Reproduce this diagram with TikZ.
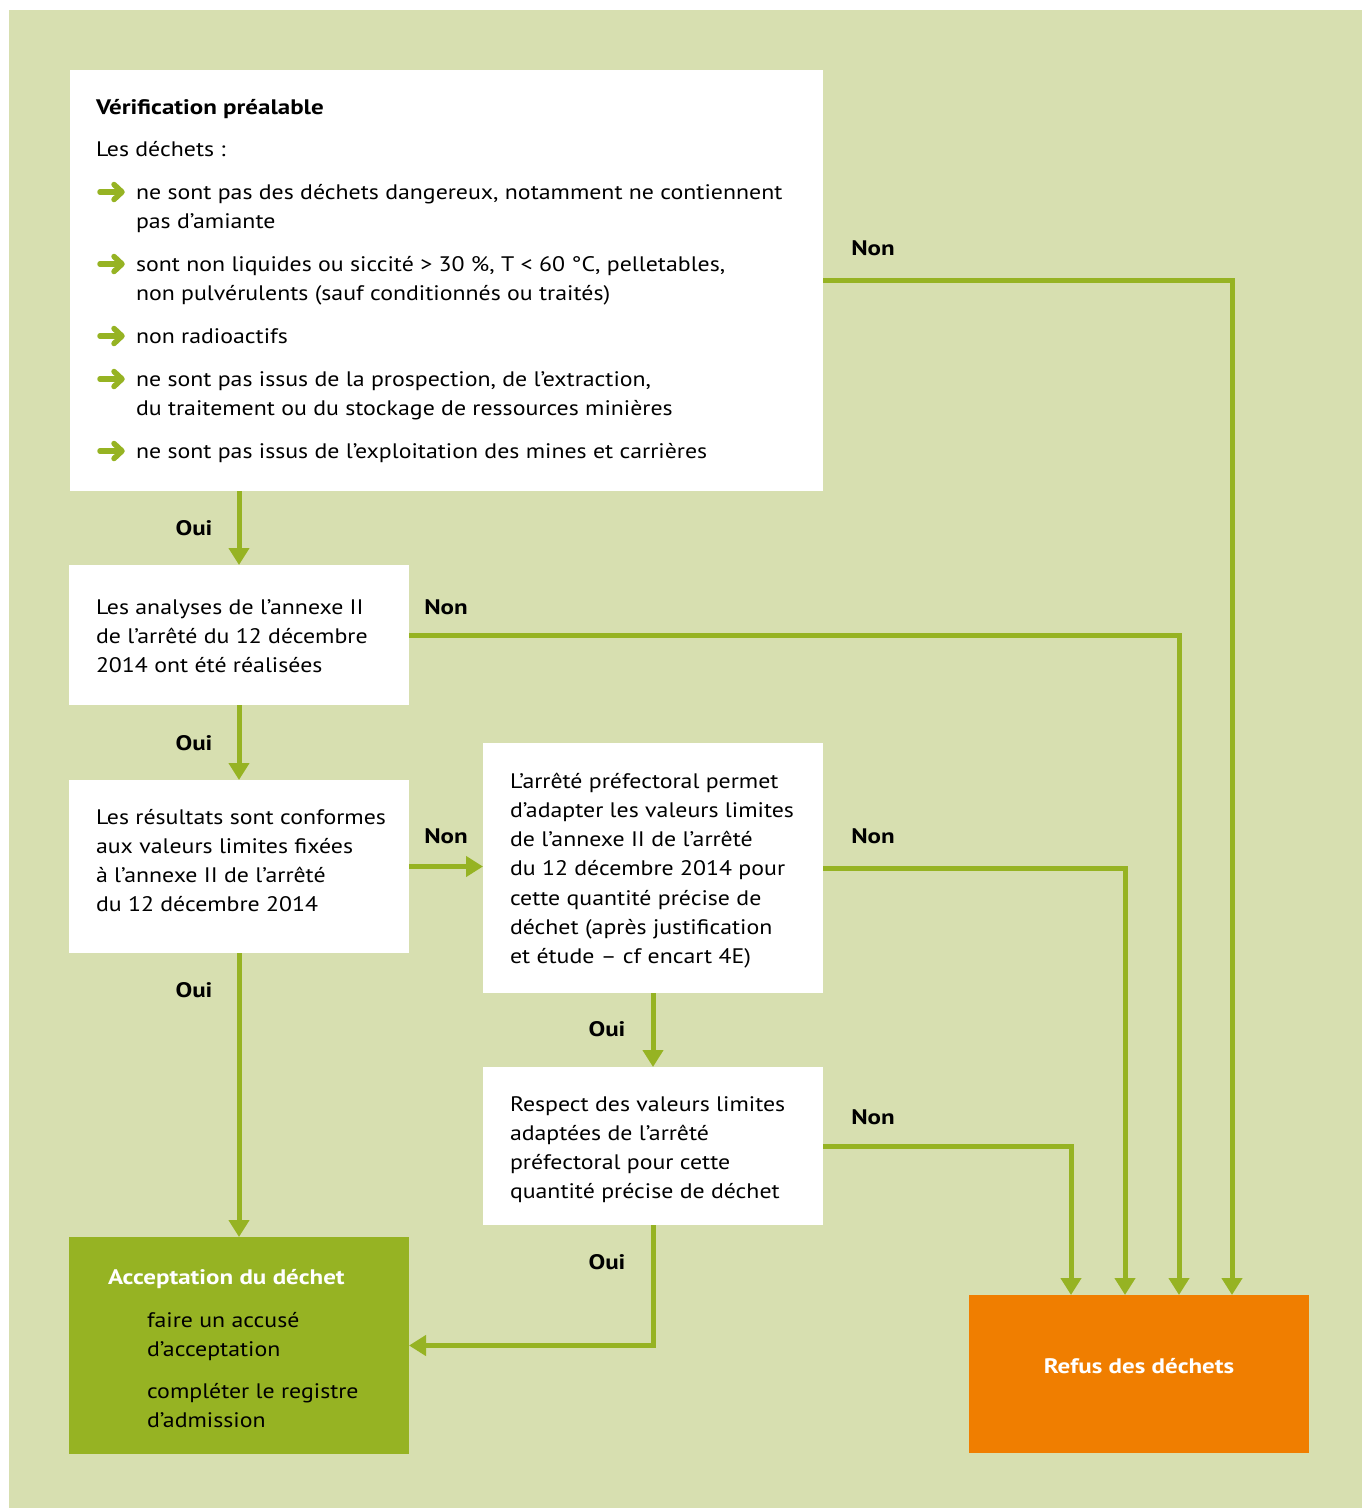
\documentclass[tikz,border=0pt]{standalone}
\usepackage{fontspec}
\setmainfont{PT Sans}[FakeStretch=1.135]
\newfontfamily\boldfam{PT Sans}[UprightFont=* Bold, FakeStretch=1.19]
\usetikzlibrary{arrows.meta}

\definecolor{bg}{HTML}{D7DFB0}
\definecolor{leaf}{HTML}{96B323}
\definecolor{refuscol}{HTML}{F07E00}

% strut fixing the top of every text block 24pt above its first baseline
\newcommand\lnstrut{\rule{0pt}{24pt}}
\newcommand\bodyfont{\fontsize{21}{29.3}\selectfont}
\newcommand\headfont{\fontsize{21}{29.3}\selectfont\boldfam}

\begin{document}
\begin{tikzpicture}[x=1pt,y=-1pt,
  panel/.style={fill=white, inner sep=0pt, outer sep=0pt, anchor=north west},
  body/.style={inner sep=0pt, outer sep=0pt, anchor=north west, align=left, font=\bodyfont},
  lab/.style={inner sep=0pt, anchor=base, font=\headfont},
  flow/.style={draw=leaf, line width=5pt, -{Triangle[width=20pt,length=17pt]}},
  bullet/.style={draw=leaf, line width=5.5pt, line cap=round, line join=round}]

\useasboundingbox (0,0) rectangle (1362,1508);
\fill[white] (0,0) rectangle (1362,1508);
\fill[bg] (9,10) rectangle (1362,1508);

% boxes
\node[panel, minimum width=753pt, minimum height=421pt] (verif) at (70,70) {};
\node[panel, minimum width=340pt, minimum height=140pt] (analyses) at (69,565) {};
\node[panel, minimum width=340pt, minimum height=173pt] (resultats) at (69,780) {};
\node[panel, minimum width=340pt, minimum height=250pt] (arrete) at (483,743) {};
\node[panel, minimum width=340pt, minimum height=158pt] (respect) at (483,1067) {};
\node[panel, fill=leaf, minimum width=340pt, minimum height=217pt] (accept) at (69,1237) {};
\node[panel, fill=refuscol, minimum width=340pt, minimum height=158pt] (refus) at (969,1295) {};

% texts of the preliminary check
\node[body, font=\headfont] (t-verif) at (96,{114-24}) {\lnstrut Vérification préalable};
\node[body] (t-dechets) at (96,{156-24}) {\lnstrut Les déchets :};
\node[body] (t-i1) at (136,{199-24}) {\lnstrut ne sont pas des déchets dangereux, notamment ne contiennent\\pas d’amiante};
\node[body] (t-i2) at (136,{271-24}) {\lnstrut sont non liquides ou siccité > 30~\%, T < 60~°C, pelletables,\\non pulvérulents (sauf conditionnés ou traités)};
\node[body] (t-i3) at (136,{343-24}) {\lnstrut non radioactifs};
\node[body] (t-i4) at (136,{386-24}) {\lnstrut ne sont pas issus de la prospection, de l’extraction,\\du traitement ou du stockage de ressources minières};
\node[body] (t-i5) at (136,{458-24}) {\lnstrut ne sont pas issus de l’exploitation des mines et carrières};

% green bullet arrows
\foreach \yy in {192,264,336,379,451} {
  \draw[bullet] (100,\yy) -- (121,\yy);
  \draw[bullet] (114,\yy-7.5) -- (122,\yy) -- (114,\yy+7.5);
}

% texts of the other boxes
\node[body] (t-analyses) at (96,{614-24}) {\lnstrut Les analyses de l’annexe II\\de l’arrêté du 12 décembre\\2014 ont été réalisées};
\node[body] (t-resultats) at (96,{824-24}) {\lnstrut Les résultats sont conformes\\aux valeurs limites fixées\\à l’annexe II de l’arrêté\\du 12 décembre 2014};
\node[body] (t-arrete) at (510,{788-24}) {\lnstrut L’arrêté préfectoral permet\\d’adapter les valeurs limites\\de l’annexe II de l’arrêté\\du 12 décembre 2014 pour\\cette quantité précise de\\déchet (après justification\\et étude – cf encart 4E)};
\node[body] (t-respect) at (510,{1111-24}) {\lnstrut Respect des valeurs limites\\adaptées de l’arrêté\\préfectoral pour cette\\quantité précise de déchet};
\node[body, font=\headfont, text=white] (t-accept) at (108,{1284-24}) {\lnstrut Acceptation du déchet};
\node[body] (t-accept-items) at (147,{1327-24}) {\lnstrut faire un accusé\\d’acceptation\\[13pt]compléter le registre\\d’admission};
\node[lab, text=white] (t-refus) at (1139,1373) {Refus des déchets};

% connectors
\coordinate (r1) at (1071,0);
\coordinate (r2) at (1125,0);
\coordinate (r3) at (1179,0);
\coordinate (r4) at (1232,0);

\draw[flow] (verif.south -| analyses.north) -- (analyses.north);
\draw[flow] (analyses.south) -- (resultats.north);
\draw[flow] (resultats.east) -- (resultats.east -| arrete.west);
\draw[flow] (resultats.south) -- (accept.north);
\draw[flow] (arrete.south) -- (respect.north);
\draw[flow] (respect.south) |- (accept.east);
\draw[flow] (verif.east) -| (r4 |- refus.north);
\draw[flow] (analyses.east) -| (r3 |- refus.north);
\draw[flow] (arrete.east) -| (r2 |- refus.north);
\draw[flow] (respect.east) -| (r1 |- refus.north);

% decision labels
\node[lab] (non1) at (873,255) {Non};
\node[lab] (non2) at (446,614) {Non};
\node[lab] (non3) at (446,843) {Non};
\node[lab] (non4) at (873,843) {Non};
\node[lab] (non5) at (873,1124) {Non};
\node[lab] (oui1) at (194,535) {Oui};
\node[lab] (oui2) at (194,750) {Oui};
\node[lab] (oui3) at (194,997) {Oui};
\node[lab] (oui4) at (607,1036) {Oui};
\node[lab] (oui5) at (607,1269) {Oui};
\end{tikzpicture}
\end{document}
